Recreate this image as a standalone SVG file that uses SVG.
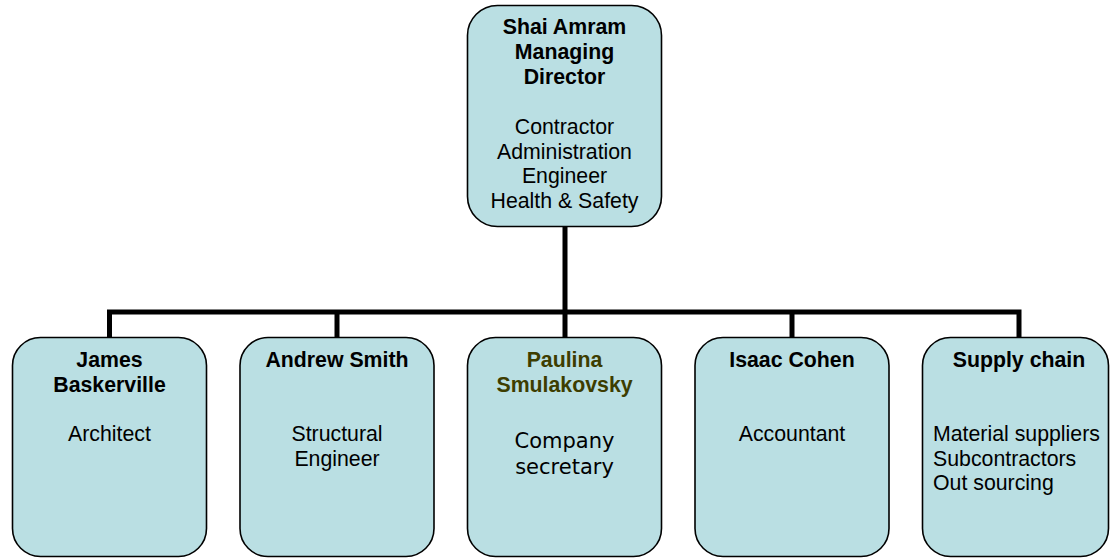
<svg xmlns="http://www.w3.org/2000/svg" width="1110" height="559" viewBox="0 0 1110 559">
<style>
.box{fill:#badfe3;stroke:#000;stroke-width:1.6}
.t{font-family:"Liberation Sans",Arial,sans-serif;font-size:21.3px;fill:#000;text-anchor:middle}
.b{font-weight:bold}
.v{font-family:"DejaVu Sans",Verdana,sans-serif;font-size:21px}
.ol{fill:#3d3d00}
.l{text-anchor:start}
.c{fill:none;stroke:#000;stroke-width:5}
</style>
<rect width="1110" height="559" fill="#fff"/>
<g id="connectors">
<path class="c" d="M565 226V312M109.5 337V312H1019V337M337 312V337M565 312V337M792 312V337"/>
</g>
<g id="n0">
<rect class="box" x="467.5" y="5.5" width="194" height="221" rx="30"/>
<text class="t b" x="564.5" y="34">Shai Amram</text>
<text class="t b" x="564.5" y="59">Managing</text>
<text class="t b" x="564.5" y="84">Director</text>
<text class="t" x="564.5" y="134">Contractor</text>
<text class="t" x="564.5" y="158.5">Administration</text>
<text class="t" x="564.5" y="183">Engineer</text>
<text class="t" x="564.5" y="207.5">Health &amp; Safety</text>
</g>
<g id="n1">
<rect class="box" x="12.5" y="337.5" width="194" height="219" rx="28"/>
<text class="t b" x="109.5" y="367">James</text>
<text class="t b" x="109.5" y="392">Baskerville</text>
<text class="t" x="109.5" y="441">Architect</text>
</g>
<g id="n2">
<rect class="box" x="240" y="337.5" width="194" height="219" rx="28"/>
<text class="t b" x="337" y="367">Andrew Smith</text>
<text class="t" x="337" y="441">Structural</text>
<text class="t" x="337" y="466">Engineer</text>
</g>
<g id="n3">
<rect class="box" x="467.5" y="337.5" width="194" height="219" rx="28"/>
<text class="t b ol" x="564.5" y="367">Paulina</text>
<text class="t b ol" x="564.5" y="392">Smulakovsky</text>
<text class="t v" x="564.5" y="448">Company</text>
<text class="t v" x="564.5" y="474">secretary</text>
</g>
<g id="n4">
<rect class="box" x="695" y="337.5" width="194" height="219" rx="28"/>
<text class="t b" x="792" y="367">Isaac Cohen</text>
<text class="t" x="792" y="441">Accountant</text>
</g>
<g id="n5">
<rect class="box" x="922.5" y="337.5" width="186" height="219" rx="28"/>
<text class="t b" x="1019" y="367">Supply chain</text>
<text class="t l" x="933" y="441">Material suppliers</text>
<text class="t l" x="933" y="466">Subcontractors</text>
<text class="t l" x="933" y="490">Out sourcing</text>
</g>
</svg>
